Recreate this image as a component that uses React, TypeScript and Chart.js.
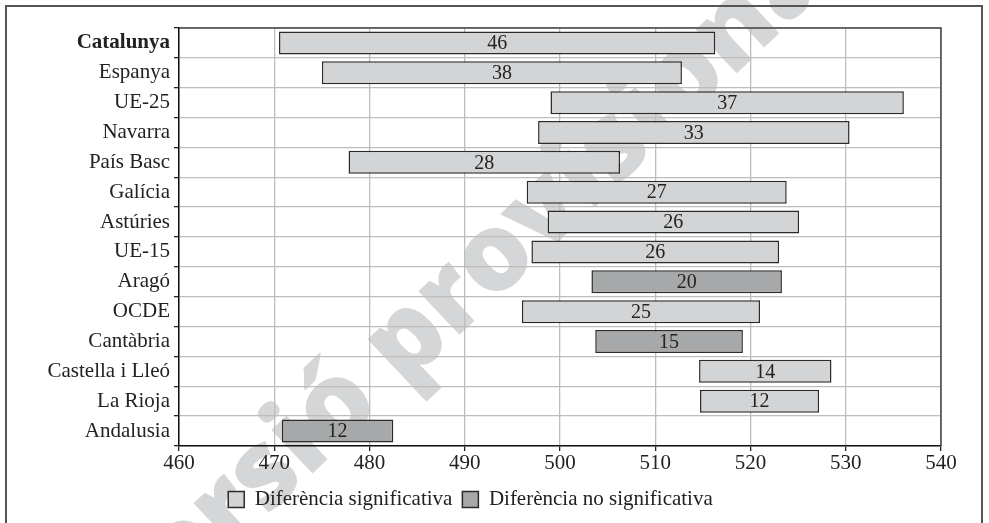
import React, { useEffect, useRef } from "react";
import { Chart, registerables } from "chart.js";

Chart.register(...registerables);

const categories = [
  "Catalunya", "Espanya", "UE-25", "Navarra", "País Basc", "Galícia", "Astúries",
  "UE-15", "Aragó", "OCDE", "Cantàbria", "Castella i Lleó", "La Rioja", "Andalusia",
];
const lows = [470.5, 475.0, 499.0, 497.7, 477.8, 496.5, 498.7, 497.0, 503.3, 496.0, 503.7, 514.6, 514.7, 470.8];
const highs = [516.3, 512.8, 536.1, 530.4, 506.3, 523.8, 525.1, 523.0, 523.3, 521.0, 519.2, 528.5, 527.2, 482.5];
const diffLabels = ["46", "38", "37", "33", "28", "27", "26", "26", "20", "25", "15", "14", "12", "12"];
const significant = [true, true, true, true, true, true, true, true, false, true, false, true, true, false];
const seriesNames = ["Diferència significativa", "Diferència no significativa"];
const xMin = 460;
const xMax = 540;
const xStep = 10;
const watermark = "Versió provisional";

const FONT = '"Liberation Serif", "Times New Roman", serif';
const LIGHT = "#d3d4d6";
const DARK = "#a7a8aa";
const EDGE = "#2b2b2b";

export default function App() {
  const ref = useRef<HTMLCanvasElement | null>(null);

  useEffect(() => {
    document.body.style.margin = "0";
    const canvas = ref.current;
    if (!canvas) return;

    const sigData = categories.map((_, i) => (significant[i] ? [lows[i], highs[i]] : null));
    const nonSigData = categories.map((_, i) => (!significant[i] ? [lows[i], highs[i]] : null));

    const bgPlugin = {
      id: "bgWatermark",
      beforeDraw(chart: any) {
        const ctx = chart.ctx;
        ctx.save();
        ctx.fillStyle = "#ffffff";
        ctx.fillRect(0, 0, chart.width, chart.height);
        const fam = '"Open Sans", "DejaVu Sans", sans-serif';
        ctx.font = `800 100px ${fam}`;
        const wr = ctx.measureText("r").width;
        const wn = ctx.measureText("n").width;
        const wmid = ctx.measureText("sió provisio").width;
        const p1x = 228, p1y = 513, p2x = 738, p2y = 32;
        const dist = Math.hypot(p2x - p1x, p2y - p1y);
        const ang = Math.atan2(p2y - p1y, p2x - p1x);
        const size = (100 * dist) / (wr / 2 + wmid + wn / 2);
        ctx.font = `800 ${size}px ${fam}`;
        ctx.fillStyle = "#d5d6d8";
        ctx.textAlign = "left";
        ctx.textBaseline = "alphabetic";
        const pre = ctx.measureText("Ve").width;
        const wR = ctx.measureText("r").width;
        const half = 0.27 * size;
        const bx = p1x - Math.sin(ang) * half;
        const by = p1y + Math.cos(ang) * half;
        const d = pre + wR / 2;
        const ox = bx - d * Math.cos(ang);
        const oy = by - d * Math.sin(ang);
        ctx.translate(ox, oy);
        ctx.rotate(ang);
        ctx.fillText(watermark, 0, 0);
        ctx.restore();
      },
    };

    const labelPlugin = {
      id: "barLabels",
      afterDatasetsDraw(chart: any) {
        const ctx = chart.ctx;
        ctx.save();
        ctx.font = `20px ${FONT}`;
        ctx.fillStyle = "#222";
        ctx.textAlign = "center";
        ctx.textBaseline = "middle";
        chart.data.datasets.forEach((ds: any, di: number) => {
          const meta = chart.getDatasetMeta(di);
          meta.data.forEach((bar: any, j: number) => {
            if (ds.data[j] == null) return;
            const p = bar.getProps(["x", "base", "y"], true);
            ctx.fillText(diffLabels[j], (p.x + p.base) / 2, p.y + 1);
          });
        });
        ctx.restore();
      },
      afterDraw(chart: any) {
        const ctx = chart.ctx;
        const a = chart.chartArea;
        ctx.save();
        ctx.strokeStyle = "#444";
        ctx.lineWidth = 1.5;
        ctx.beginPath();
        ctx.moveTo(a.left, a.top);
        ctx.lineTo(a.right, a.top);
        ctx.lineTo(a.right, a.bottom);
        ctx.stroke();
        ctx.strokeStyle = "#555";
        ctx.lineWidth = 2;
        ctx.strokeRect(6, 6, 976, 540);
        ctx.restore();
      },
    };

    const chart = new Chart(canvas, {
      type: "bar",
      data: {
        labels: categories,
        datasets: [
          {
            label: seriesNames[0],
            data: sigData as any,
            backgroundColor: LIGHT,
            borderColor: EDGE,
            borderWidth: 1.5,
            borderSkipped: false,
            grouped: false,
            barPercentage: 0.77,
            categoryPercentage: 1,
          },
          {
            label: seriesNames[1],
            data: nonSigData as any,
            backgroundColor: DARK,
            borderColor: EDGE,
            borderWidth: 1.5,
            borderSkipped: false,
            grouped: false,
            barPercentage: 0.77,
            categoryPercentage: 1,
          },
        ],
      },
      options: {
        indexAxis: "y",
        responsive: false,
        animation: false,
        layout: { padding: { left: 0, top: 28, right: 48, bottom: 3 } },
        scales: {
          x: {
            min: xMin,
            max: xMax,
            ticks: { stepSize: xStep, color: "#222", font: { family: FONT, size: 21 }, padding: 0 },
            grid: { color: "#bdbdbd", lineWidth: 1.3, tickLength: 5, tickColor: "#222" },
            border: { color: "#111", width: 1.5 },
            afterFit(scale: any) {
              scale.height = 33;
            },
          },
          y: {
            ticks: {
              color: "#222",
              padding: 4,
              font: (c: any) => ({ family: FONT, size: 21, weight: c.index === 0 ? "bold" : "normal" }),
            },
            grid: { color: "#bdbdbd", lineWidth: 1.3, tickLength: 5, tickColor: "#222" },
            border: { color: "#111", width: 1.5 },
            afterFit(scale: any) {
              scale.width = 179;
            },
          },
        },
        plugins: {
          tooltip: { enabled: false },
          legend: {
            position: "bottom",
            labels: {
              boxWidth: 16,
              boxHeight: 16,
              padding: 10,
              color: "#222",
              font: { family: FONT, size: 21 },
            },
          },
        },
      } as any,
      plugins: [bgPlugin, labelPlugin],
    });

    return () => chart.destroy();
  }, []);

  return (
    <div style={{ width: 989, height: 523 }}>
      <canvas ref={ref} width={989} height={523} style={{ display: "block" }} />
    </div>
  );
}
